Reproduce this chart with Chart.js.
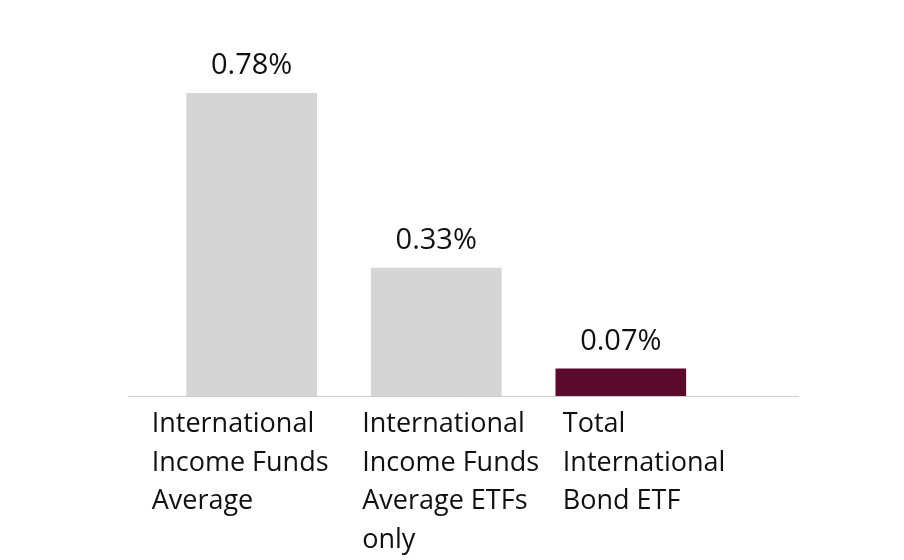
<!DOCTYPE html>
<html>
<head>
<meta charset="utf-8">
<script src="https://cdn.jsdelivr.net/npm/chart.js@4.4.1/dist/chart.umd.min.js"></script>
<style>
  body { margin: 0; background: #fff; }
  #wrap { width: 904px; height: 560px; }
</style>
</head>
<body>
<div id="wrap"><canvas id="myChart" width="904" height="560"></canvas></div>
<script>
// data
const categories = [
    ['International', 'Income Funds', 'Average'],
    ['International', 'Income Funds', 'Average ETFs', 'only'],
    ['Total', 'International', 'Bond ETF']
];
const expenseRatios = [0.78, 0.33, 0.07];
const valueLabels = ['0.78%', '0.33%', '0.07%'];
const barColors = ['#d5d5d5', '#d5d5d5', '#5c0a2c'];

const FONT = '"Open Sans", Lato, sans-serif';

// label di atas batang
const valuePlugin = {
    id: 'valueLabels',
    afterDatasetsDraw(chart) {
        const ctx = chart.ctx;
        const meta = chart.getDatasetMeta(0);
        ctx.save();
        ctx.font = '29px ' + FONT;
        ctx.fillStyle = '#111';
        ctx.textAlign = 'center';
        ctx.textBaseline = 'alphabetic';
        meta.data.forEach((bar, i) => {
            ctx.fillText(valueLabels[i], bar.x, bar.y - 19);
        });
        ctx.restore();
    }
};

// label kategori di bawah sumbu (rata kiri)
const labelShift = [-100, -74, -58];
const categoryPlugin = {
    id: 'categoryLabels',
    afterDraw(chart) {
        const ctx = chart.ctx;
        const xScale = chart.scales.x;
        const base = chart.chartArea.bottom;
        ctx.save();
        ctx.font = '27px ' + FONT;
        ctx.fillStyle = '#111';
        ctx.textAlign = 'left';
        ctx.textBaseline = 'alphabetic';
        categories.forEach((lines, i) => {
            const x = xScale.getPixelForValue(i) + labelShift[i];
            lines.forEach((line, j) => {
                ctx.fillText(line, x, base + 36 + j * 38.5);
            });
        });
        ctx.restore();
    }
};

const ctx = document.getElementById('myChart').getContext('2d');
const myChart = new Chart(ctx, {
    type: 'bar',
    data: {
        datasets: [{
            data: expenseRatios.map((v, i) => ({ x: i, y: v })),
            backgroundColor: barColors,
            borderWidth: 0,
            barThickness: 130
        }]
    },
    options: {
        responsive: false,
        animation: false,
        layout: { padding: { left: 128, right: 106, top: 8, bottom: 156 } },
        plugins: { legend: { display: false }, tooltip: { enabled: false } },
        scales: {
            x: {
                type: 'linear',
                offset: false,
                min: -0.67,
                max: 2.96,
                grid: { display: false },
                border: { display: true, color: '#cfcfcf', width: 1 },
                ticks: { display: false }
            },
            y: {
                display: false,
                min: 0,
                max: 1
            }
        }
    },
    plugins: [valuePlugin, categoryPlugin]
});
</script>
</body>
</html>
